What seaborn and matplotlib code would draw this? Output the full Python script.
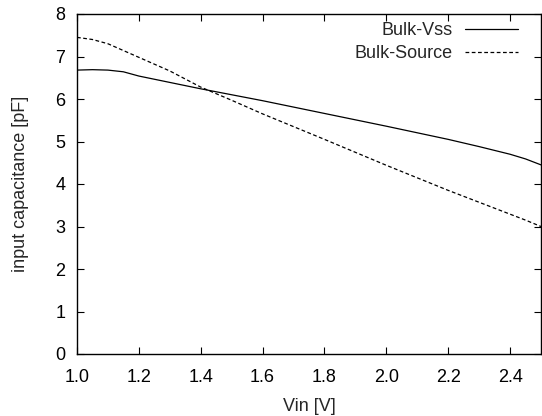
import numpy as np
import pandas as pd
import matplotlib
matplotlib.use("Agg")
import matplotlib.pyplot as plt
import seaborn as sns

# Data
vin = [1.0, 1.05, 1.1, 1.15, 1.2, 1.3, 1.4, 1.5, 1.6, 1.8, 2.0, 2.2, 2.3, 2.4, 2.45, 2.5]
bulk_vss = [6.68, 6.69, 6.68, 6.64, 6.54, 6.39, 6.24, 6.10, 5.96, 5.66, 5.36, 5.05, 4.88, 4.70, 4.59, 4.45]
bulk_source = [7.45, 7.40, 7.30, 7.14, 6.98, 6.66, 6.28, 5.97, 5.65, 5.05, 4.44, 3.85, 3.57, 3.29, 3.15, 3.00]
series_names = ["Bulk-Vss", "Bulk-Source"]
x_ticks = [1.0, 1.2, 1.4, 1.6, 1.8, 2.0, 2.2, 2.4]
y_ticks = [0, 1, 2, 3, 4, 5, 6, 7, 8]

df = pd.DataFrame({
    "Vin": vin * 2,
    "C": bulk_vss + bulk_source,
    "series": [series_names[0]] * len(vin) + [series_names[1]] * len(vin),
})

sns.set_style("ticks")
plt.rcParams["font.family"] = ["Liberation Sans", "DejaVu Sans"]
plt.rcParams["font.size"] = 13

fig = plt.figure(figsize=(5.42, 4.16), dpi=100)
ax = fig.add_axes([77 / 542, 62 / 416, 464 / 542, 340 / 416])

sns.lineplot(
    data=df, x="Vin", y="C", hue="series", style="series",
    palette={series_names[0]: "black", series_names[1]: "black"},
    dashes={series_names[0]: "", series_names[1]: (3, 2)},
    linewidth=0.9, ax=ax, legend=True,
)

ax.set_xlim(1.0, 2.5)
ax.set_ylim(0, 8)
ax.set_xticks(x_ticks)
ax.set_xticklabels([f"{t:.1f}" for t in x_ticks])
ax.set_yticks(y_ticks)
ax.set_yticklabels([str(t) for t in y_ticks])
ax.tick_params(axis="both", direction="in", top=True, right=True, length=5,
               width=0.8, labelsize=13, colors="black")
ax.tick_params(axis="x", pad=10.5)
ax.tick_params(axis="y", pad=8.5)
for s in ax.spines.values():
    s.set_linewidth(1.0)
    s.set_color("black")

ax.set_xlabel("Vin [V]", fontsize=13, labelpad=9)
ax.set_ylabel("input capacitance [pF]", fontsize=13, labelpad=19)

handles, labels = ax.get_legend_handles_labels()
ax.legend(handles, labels, loc="upper right", frameon=False, markerfirst=False,
          fontsize=13, handlelength=2.9, handletextpad=0.7, labelspacing=0.3,
          borderaxespad=0.3, borderpad=0.5,
          bbox_to_anchor=(1 - 9 / 464, 1 + 6 / 340))

fig.savefig("out.png", dpi=100)
